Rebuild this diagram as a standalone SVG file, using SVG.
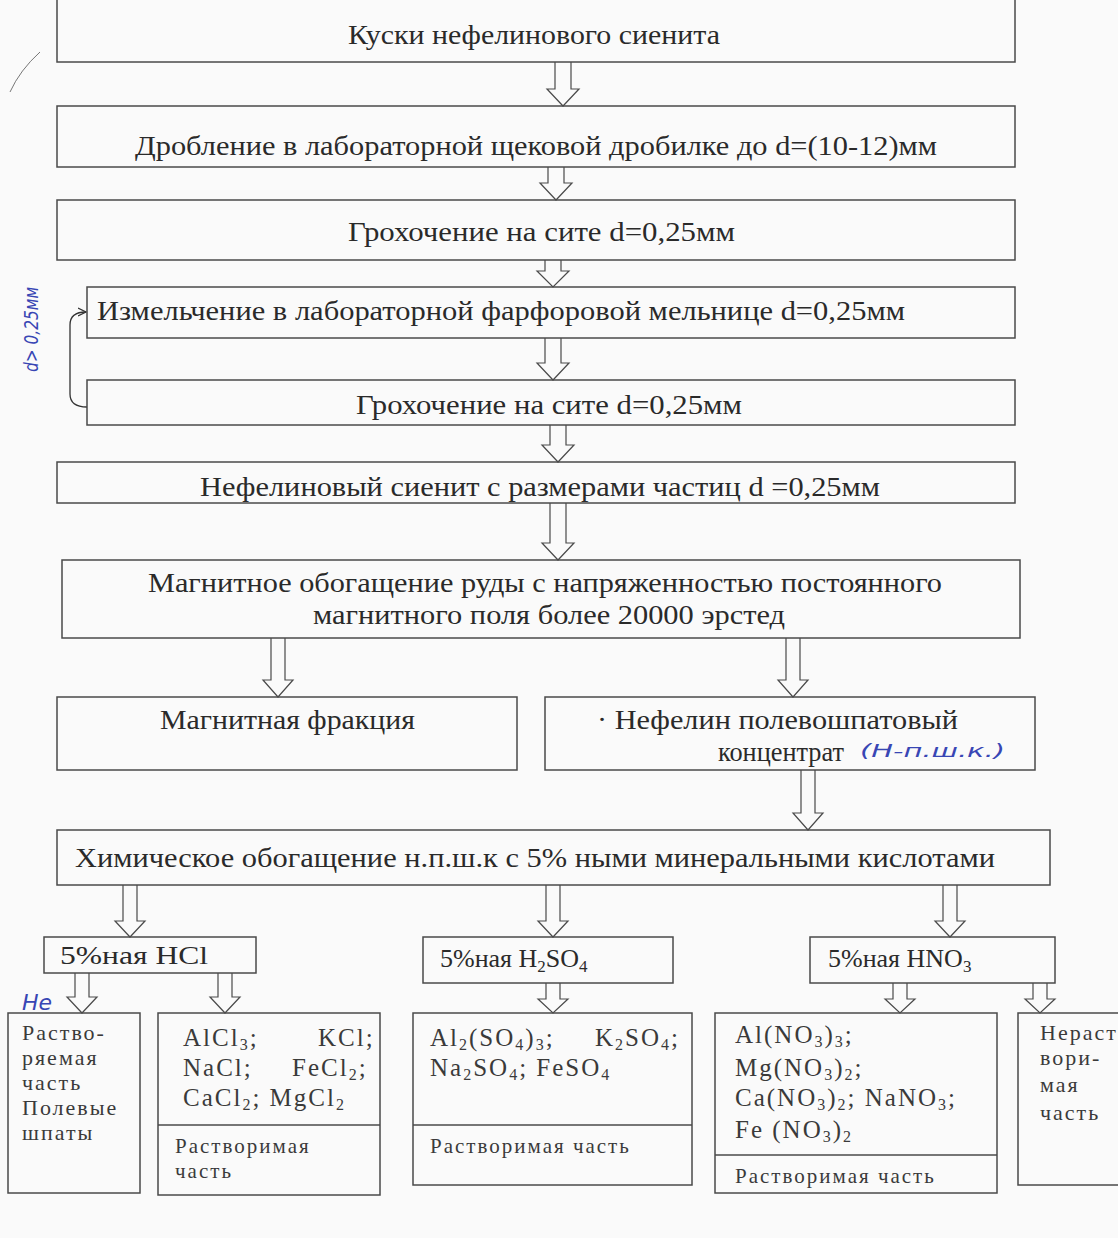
<svg xmlns="http://www.w3.org/2000/svg" width="1118" height="1238" viewBox="0 0 1118 1238">
<style>
.box{fill:none;stroke:#4a4a4a;stroke-width:1.5}
.t{font-family:"Liberation Serif","Times New Roman",serif;font-size:28px;fill:#2a2a2a}
.a{font-family:"Liberation Serif","Times New Roman",serif;font-size:26px;fill:#2a2a2a}
.s{font-family:"Liberation Serif","Times New Roman",serif;font-size:22px;letter-spacing:2px;fill:#3a3a3a}
.r{font-family:"Liberation Serif","Times New Roman",serif;font-size:21px;letter-spacing:2px;fill:#3a3a3a}
.c{font-family:"Liberation Serif","Times New Roman",serif;font-size:25px;letter-spacing:2px;fill:#3a3a3a}
.arr{fill:#fafafa;stroke:#4a4a4a;stroke-width:1.2}
.blue{font-family:"DejaVu Sans",sans-serif;font-style:italic;fill:#3846b4}
</style>
<defs>
<marker id="ah" markerWidth="10" markerHeight="10" refX="8" refY="5" orient="auto" markerUnits="userSpaceOnUse">
<path d="M0,1 L8,5 L0,9" fill="none" stroke="#333" stroke-width="1.3"/>
</marker>
</defs>
<rect width="1118" height="1238" fill="#fafafa"/>
<path d="M40,52 Q20,70 10,92" fill="none" stroke="#777" stroke-width="1"/>

<g id="connectors">
<path class="arr" d="M555,62 V89 H547 L563,106 L579,89 H571 V62"/>
<path class="arr" d="M548,167 V183 H540 L556,200 L572,183 H564 V167"/>
<path class="arr" d="M545,260 V271 H537 L553,287 L569,271 H561 V260"/>
<path class="arr" d="M545,338 V363 H537 L553,380 L569,363 H561 V338"/>
<path class="arr" d="M550,425 V445 H542 L558,462 L574,445 H566 V425"/>
<path class="arr" d="M550,503 V543 H542 L558,560 L574,543 H566 V503"/>
<path class="arr" d="M271,638 V680 H263 L278,697 L293,680 H285 V638"/>
<path class="arr" d="M786,638 V680 H778 L793,697 L808,680 H800 V638"/>
<path class="arr" d="M801,770 V813 H793 L808,830 L823,813 H815 V770"/>
<path class="arr" d="M123,885 V921 H115 L130,937 L145,921 H137 V885"/>
<path class="arr" d="M546,885 V921 H538 L553,937 L568,921 H560 V885"/>
<path class="arr" d="M943,885 V921 H935 L950,937 L965,921 H957 V885"/>
<path class="arr" d="M75,973 V997 H67 L82,1013 L97,997 H89 V973"/>
<path class="arr" d="M218,973 V997 H210 L225,1013 L240,997 H232 V973"/>
<path class="arr" d="M546,983 V999 H538 L553,1013 L568,999 H560 V983"/>
<path class="arr" d="M893,983 V999 H885 L900,1013 L915,999 H907 V983"/>
<path class="arr" d="M1033,983 V999 H1025 L1040,1013 L1055,999 H1047 V983"/>
<path d="M87,407 Q70,407 70,394 V325 Q70,312 86,312" fill="none" stroke="#333" stroke-width="1.3" marker-end="url(#ah)"/>
</g>

<g id="n1"><rect class="box" x="57" y="-4" width="958" height="66"/>
<text class="t" x="348" y="44" textLength="372" lengthAdjust="spacingAndGlyphs">Куски нефелинового сиенита</text></g>
<g id="n2"><rect class="box" x="57" y="106" width="958" height="61"/>
<text class="t" x="135" y="155" textLength="802" lengthAdjust="spacingAndGlyphs">Дробление в лабораторной щековой дробилке до d=(10-12)мм</text></g>
<g id="n3"><rect class="box" x="57" y="200" width="958" height="60"/>
<text class="t" x="348" y="241" textLength="387" lengthAdjust="spacingAndGlyphs">Грохочение на сите d=0,25мм</text></g>
<g id="n4"><rect class="box" x="87" y="287" width="928" height="51"/>
<text class="t" x="97" y="320" textLength="808" lengthAdjust="spacingAndGlyphs">Измельчение в лабораторной фарфоровой мельнице d=0,25мм</text></g>
<g id="n5"><rect class="box" x="87" y="380" width="928" height="45"/>
<text class="t" x="356" y="414" textLength="386" lengthAdjust="spacingAndGlyphs">Грохочение на сите d=0,25мм</text></g>
<g id="n6"><rect class="box" x="57" y="462" width="958" height="41"/>
<text class="t" x="200" y="496" textLength="680" lengthAdjust="spacingAndGlyphs">Нефелиновый сиенит с размерами частиц  d =0,25мм</text></g>
<g id="n7"><rect class="box" x="62" y="560" width="958" height="78"/>
<text class="t" x="148" y="592" textLength="794" lengthAdjust="spacingAndGlyphs">Магнитное обогащение руды с напряженностью постоянного</text>
<text class="t" x="313" y="624" textLength="472" lengthAdjust="spacingAndGlyphs">магнитного поля более 20000 эрстед</text></g>
<g id="n8a"><rect class="box" x="57" y="697" width="460" height="73"/>
<text class="t" x="160" y="729" textLength="255" lengthAdjust="spacingAndGlyphs">Магнитная фракция</text></g>
<g id="n8b"><rect class="box" x="545" y="697" width="490" height="73"/>
<text class="t" x="597" y="729" textLength="361" lengthAdjust="spacingAndGlyphs">· Нефелин полевошпатовый</text>
<text class="t" x="718" y="761" textLength="126" lengthAdjust="spacingAndGlyphs">концентрат</text>
<text class="blue" x="860" y="757" font-size="18" textLength="145" lengthAdjust="spacingAndGlyphs">(Н-п.ш.к.)</text></g>
<g id="n9"><rect class="box" x="57" y="830" width="993" height="55"/>
<text class="t" x="75" y="867" textLength="920" lengthAdjust="spacingAndGlyphs">Химическое обогащение н.п.ш.к  с 5% ными минеральными кислотами</text></g>
<g id="hcl"><rect class="box" x="44" y="937" width="212" height="36"/>
<text class="a" x="60" y="964" textLength="148" lengthAdjust="spacingAndGlyphs">5%ная  HCl</text></g>
<g id="h2so4"><rect class="box" x="423" y="937" width="250" height="46"/>
<text class="a" x="440" y="967">5%ная H<tspan font-size="17" dy="5">2</tspan><tspan dy="-5">SO</tspan><tspan font-size="17" dy="5">4</tspan></text></g>
<g id="hno3"><rect class="box" x="810" y="937" width="245" height="46"/>
<text class="a" x="828" y="967">5%ная HNO<tspan font-size="17" dy="5">3</tspan></text></g>

<g id="r1"><rect class="box" x="8" y="1013" width="132" height="180"/>
<text class="blue" x="22" y="1010" font-size="22">Не</text>
<text class="s" x="22" y="1040">Раство-</text>
<text class="s" x="22" y="1065">ряемая</text>
<text class="s" x="22" y="1090">часть</text>
<text class="s" x="22" y="1115">Полевые</text>
<text class="s" x="22" y="1140">шпаты</text></g>
<g id="r2"><rect class="box" x="158" y="1013" width="222" height="182"/>
<line class="box" x1="158" y1="1125" x2="380" y2="1125"/>
<text class="c" x="183" y="1046">AlCl<tspan font-size="16" dy="4">3</tspan><tspan dy="-4">;</tspan></text>
<text class="c" x="318" y="1046">KCl;</text>
<text class="c" x="183" y="1076">NaCl;</text>
<text class="c" x="292" y="1076">FeCl<tspan font-size="16" dy="4">2</tspan><tspan dy="-4">;</tspan></text>
<text class="c" x="183" y="1106">CaCl<tspan font-size="16" dy="4">2</tspan><tspan dy="-4">; MgCl</tspan><tspan font-size="16" dy="4">2</tspan></text>
<text class="r" x="175" y="1153">Растворимая</text>
<text class="r" x="175" y="1178">часть</text></g>
<g id="r3"><rect class="box" x="413" y="1013" width="279" height="172"/>
<line class="box" x1="413" y1="1125" x2="692" y2="1125"/>
<text class="c" x="430" y="1046">Al<tspan font-size="16" dy="4">2</tspan><tspan dy="-4">(SO</tspan><tspan font-size="16" dy="4">4</tspan><tspan dy="-4">)</tspan><tspan font-size="16" dy="4">3</tspan><tspan dy="-4">;</tspan></text>
<text class="c" x="595" y="1046">K<tspan font-size="16" dy="4">2</tspan><tspan dy="-4">SO</tspan><tspan font-size="16" dy="4">4</tspan><tspan dy="-4">;</tspan></text>
<text class="c" x="430" y="1076">Na<tspan font-size="16" dy="4">2</tspan><tspan dy="-4">SO</tspan><tspan font-size="16" dy="4">4</tspan><tspan dy="-4">;  FeSO</tspan><tspan font-size="16" dy="4">4</tspan></text>
<text class="r" x="430" y="1153">Растворимая часть</text></g>
<g id="r4"><rect class="box" x="715" y="1013" width="282" height="180"/>
<line class="box" x1="715" y1="1155" x2="997" y2="1155"/>
<text class="c" x="735" y="1043">Al(NO<tspan font-size="16" dy="4">3</tspan><tspan dy="-4">)</tspan><tspan font-size="16" dy="4">3</tspan><tspan dy="-4">;</tspan></text>
<text class="c" x="735" y="1076">Mg(NO<tspan font-size="16" dy="4">3</tspan><tspan dy="-4">)</tspan><tspan font-size="16" dy="4">2</tspan><tspan dy="-4">;</tspan></text>
<text class="c" x="735" y="1106">Ca(NO<tspan font-size="16" dy="4">3</tspan><tspan dy="-4">)</tspan><tspan font-size="16" dy="4">2</tspan><tspan dy="-4">; NaNO</tspan><tspan font-size="16" dy="4">3</tspan><tspan dy="-4">;</tspan></text>
<text class="c" x="735" y="1138">Fe (NO<tspan font-size="16" dy="4">3</tspan><tspan dy="-4">)</tspan><tspan font-size="16" dy="4">2</tspan></text>
<text class="r" x="735" y="1183">Растворимая часть</text></g>
<g id="r5"><rect class="box" x="1018" y="1013" width="110" height="172"/>
<text class="s" x="1040" y="1040">Нераст</text>
<text class="s" x="1040" y="1065">вори-</text>
<text class="s" x="1040" y="1092">мая</text>
<text class="s" x="1040" y="1120">часть</text></g>

<text class="blue" font-size="20" transform="translate(38,372) rotate(-90)" textLength="85" lengthAdjust="spacingAndGlyphs">d&gt; 0,25мм</text>
</svg>
